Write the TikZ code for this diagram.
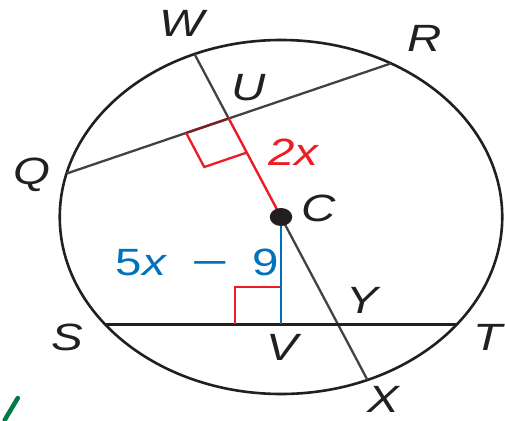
\documentclass[tikz,border=0pt]{standalone}
\usepackage{fontspec}
\setmainfont{Liberation Sans}
\usepackage{xcolor}
\usepackage{tikz}
\usetikzlibrary{calc}

\definecolor{mred}{RGB}{237,28,36}
\definecolor{mblue}{RGB}{0,114,188}
\definecolor{ink}{RGB}{35,31,32}
\definecolor{mgreen}{RGB}{0,122,70}

\begin{document}
\begin{tikzpicture}[x=1pt, y=1pt, xscale=1.25,
    rim/.style={draw=ink, line width=2.6pt},
    chord/.style={draw=ink!85, line width=2.3pt},
    base/.style={draw=ink, line width=3pt},
    redseg/.style={draw=mred, line width=2.4pt},
    blueseg/.style={draw=mblue, line width=2.6pt},
    rmark/.style={draw=mred, line width=2.3pt},
    lbl/.style={transform shape, inner sep=0pt, text=ink,
                font=\fontsize{38}{38}\selectfont\itshape}]

\useasboundingbox (-224.8,-203) rectangle (179.2,217);

% points on the circle
\coordinate (C) at (0,0);
\coordinate (W) at (113:177);
\coordinate (X) at (-67:177);
\coordinate (Q) at (165.8:177);
\coordinate (R) at (60.2:177);
\coordinate (U) at (113:107);
\coordinate (S) at (-141,-107);
\coordinate (T) at (141,-107);
\coordinate (V) at (0,-107);
\coordinate (Y) at (intersection of W--X and S--T);

\draw[rim] (C) circle[radius=177];
\draw[chord] (Q) -- (R);
\draw[chord] (W) -- (U);
\draw[chord] (C) -- (X);
\draw[base] (S) -- (T);

% right angle marks
\draw[draw=mred!45!ink, line width=2.3pt] (U) -- ($(U)+(203:37)$);
\draw[rmark] ($(U)+(203:37)$) -- ++(-67:37) -- ($(U)+(-67:37)$);
\draw[rmark] ($(V)+(-37,0)$) -- ++(0,37) -- ($(V)+(0,37)$);

\draw[redseg] (U) -- (C);
\draw[blueseg] (C) -- (V);
\fill[ink] (C) circle[radius=9];

% labels
\node[lbl] (lW) at (-79,194) {W};
\node[lbl] (lR) at (115,179) {R};
\node[lbl] (lU) at (-26,129) {U};
\node[lbl] (lQ) at (-199,42) {Q};
\node[lbl, text=mred] (l2x) at (10,65) {2x};
\node[lbl] (lC) at (30,9) {C};
\node[lbl, text=mblue] (l5x) at (-67,-45) {\upshape 5\textit{x}\enspace\scalebox{1.35}[1]{−}\enspace 9};
\node[lbl] (lY) at (65,-83) {Y};
\node[lbl] (lS) at (-171,-120) {S};
\node[lbl] (lV) at (1,-130) {V};
\node[lbl] (lT) at (166,-120) {T};
\node[lbl] (lX) at (82,-182) {X};

% green stroke at the corner
\coordinate (g1) at (-221,-203);
\coordinate (g2) at (-210.5,-181);
\draw[draw=mgreen, line width=4.5pt, line cap=round] (g1) -- (g2);
\end{tikzpicture}
\end{document}
